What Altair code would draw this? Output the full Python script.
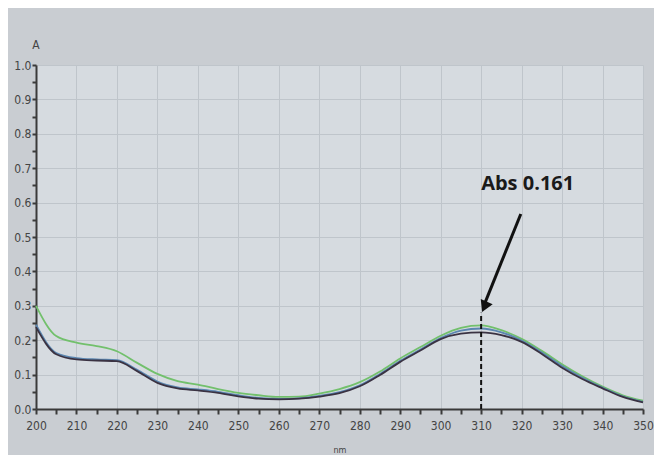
import altair as alt
import pandas as pd

wavelength = [200, 205, 210, 215, 220, 225, 230, 235, 240, 245, 250, 255, 260, 265, 270,
              275, 280, 285, 290, 295, 300, 305, 310, 315, 320, 325, 330, 335, 340, 345, 350]
abs_green = [0.300, 0.212, 0.193, 0.183, 0.168, 0.134, 0.102, 0.081, 0.071, 0.058, 0.047, 0.040, 0.035, 0.036, 0.045,
             0.058, 0.078, 0.109, 0.147, 0.180, 0.213, 0.236, 0.243, 0.229, 0.204, 0.169, 0.130, 0.095, 0.065, 0.040, 0.024]
abs_blue = [0.245, 0.163, 0.148, 0.144, 0.142, 0.114, 0.080, 0.063, 0.057, 0.050, 0.040, 0.032, 0.029, 0.031, 0.038,
            0.049, 0.069, 0.102, 0.140, 0.173, 0.206, 0.228, 0.234, 0.223, 0.199, 0.164, 0.125, 0.091, 0.062, 0.037, 0.021]
abs_dark = [0.238, 0.159, 0.144, 0.141, 0.139, 0.110, 0.076, 0.060, 0.054, 0.047, 0.037, 0.030, 0.028, 0.030, 0.036,
            0.046, 0.066, 0.099, 0.137, 0.170, 0.203, 0.219, 0.223, 0.215, 0.195, 0.160, 0.120, 0.087, 0.060, 0.035, 0.019]

series_names = ["green", "blue", "dark"]
series_colors = ["#72c06c", "#5b86b0", "#3a3242"]

marker_nm = [310, 310]
marker_abs = [0.0, 0.28]
arrow_from = [319.8, 0.567]
arrow_to = [310.0, 0.28]
label_pos = [321.5, 0.655]
label_text = "Abs 0.161"

rows = []
for name, vals in zip(series_names, [abs_green, abs_blue, abs_dark]):
    for w, v in zip(wavelength, vals):
        rows.append({"nm": w, "A": v, "series": name})
df = pd.DataFrame(rows)

x_ticks = list(range(200, 351, 5))
y_ticks = [round(i * 0.05, 2) for i in range(21)]

xscale = alt.Scale(domain=[200, 350], nice=False, zero=False)
yscale = alt.Scale(domain=[0, 1], nice=False)

x_axis = alt.Axis(
    values=x_ticks, title="nm", titleFontSize=9, titleFontWeight="normal", titleColor="#444",
    titlePadding=14, titleFont="DejaVu Sans Condensed",
    labelExpr="datum.value % 10 === 0 ? datum.label : ''", labelOverlap=False, labelFlush=False,
    labelFont="DejaVu Sans Condensed", labelFontSize=12, labelColor="#444", labelPadding=6,
    grid=True, gridColor="#bfc5cb", gridWidth=1,
    gridOpacity={"condition": {"test": "datum.value % 10 !== 0", "value": 0}, "value": 1},
    domainColor="#3a3a3a", domainWidth=2, tickColor="#3a3a3a", tickSize=5, tickWidth=2,
)
y_axis = alt.Axis(
    values=y_ticks, title=None, format=".1f", labelOverlap=False, labelFlush=False,
    labelExpr="abs(datum.value*10 - round(datum.value*10)) < 0.01 ? datum.label : ''",
    labelFont="DejaVu Sans Condensed", labelFontSize=12, labelColor="#444", labelPadding=1,
    grid=True, gridColor="#bfc5cb", gridWidth=1,
    gridOpacity={"condition": {"test": "abs(datum.value*10 - round(datum.value*10)) > 0.01", "value": 0}, "value": 1},
    domainColor="#3a3a3a", domainWidth=2, tickColor="#3a3a3a", tickSize=4, tickWidth=2,
)

lines = alt.Chart(df).mark_line(strokeWidth=1.8, interpolate="monotone").encode(
    x=alt.X("nm:Q", scale=xscale, axis=x_axis),
    y=alt.Y("A:Q", scale=yscale, axis=y_axis),
    color=alt.Color("series:N", scale=alt.Scale(domain=series_names, range=series_colors), legend=None),
    order=alt.Order("nm:Q"),
)

marker_df = pd.DataFrame({"nm": marker_nm, "A": marker_abs})
marker = alt.Chart(marker_df).mark_line(color="#111", strokeWidth=2, strokeDash=[5, 3]).encode(
    x=alt.X("nm:Q", scale=xscale, axis=x_axis), y=alt.Y("A:Q", scale=yscale, axis=y_axis)
)

arrow_df = pd.DataFrame({"x1": [arrow_from[0]], "y1": [arrow_from[1]], "x2": [arrow_to[0] + 1.0], "y2": [arrow_to[1] + 0.03]})
arrow = alt.Chart(arrow_df).mark_rule(color="#111", strokeWidth=3).encode(
    x=alt.X("x1:Q", scale=xscale, axis=x_axis), y=alt.Y("y1:Q", scale=yscale, axis=y_axis), x2="x2:Q", y2="y2:Q"
)
head_df = pd.DataFrame({"nm": [arrow_to[0] + 1.0], "A": [arrow_to[1] + 0.022]})
head = alt.Chart(head_df).mark_point(shape="triangle", filled=True, color="#111", size=170, angle=204, opacity=1).encode(
    x=alt.X("nm:Q", scale=xscale, axis=x_axis), y=alt.Y("A:Q", scale=yscale, axis=y_axis)
)

label_df = pd.DataFrame({"nm": [label_pos[0]], "A": [label_pos[1]], "t": [label_text]})
label = alt.Chart(label_df).mark_text(font="Open Sans", fontWeight="bold", fontSize=20, color="#1a1a1a").encode(
    x=alt.X("nm:Q", scale=xscale, axis=x_axis), y=alt.Y("A:Q", scale=yscale, axis=y_axis), text="t:N"
)

a_title = alt.Chart(label_df).mark_text(font="DejaVu Sans Condensed", fontSize=12, color="#444", align="center").encode(
    x=alt.value(0), y=alt.value(-20), text=alt.value("A")
)

chart = alt.layer(lines, marker, arrow, head, label, a_title).properties(
    width=607, height=344,
    autosize=alt.AutoSizeParams(type="none"),
    padding={"left": 28, "top": 57, "right": 11, "bottom": 46},
    background="#c9cdd2",
).configure_view(fill="#d6dbe0", stroke=None).configure_axis(labelOverlap=False)

chart.save("out.html", embed_options={"renderer": "svg", "actions": False})
